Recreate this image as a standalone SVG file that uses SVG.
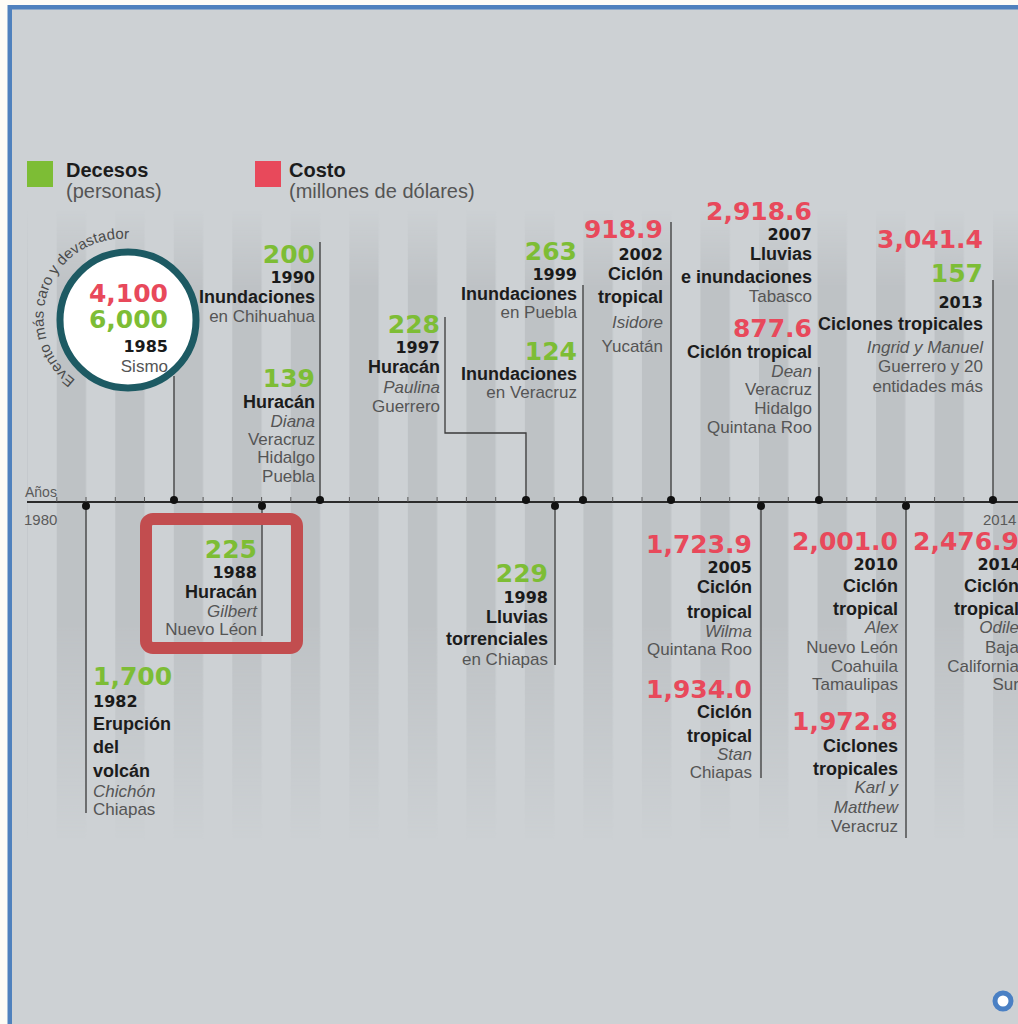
<svg xmlns="http://www.w3.org/2000/svg" width="1018" height="1024" viewBox="0 0 1018 1024">
<style>
.num{font-family:"DejaVu Sans",sans-serif;font-weight:bold;font-size:25px}
.g{fill:#7dbd35}
.r{fill:#e8495b}
.yr{font-family:"DejaVu Sans",sans-serif;font-weight:bold;font-size:16px;fill:#1a1a1a}
.b{font-family:"Liberation Sans",Arial,sans-serif;font-weight:bold;font-size:18px;fill:#1c1c1c}
.t{font-family:"Liberation Sans",Arial,sans-serif;font-size:17px;fill:#555}
.i{font-style:italic}
.e{text-anchor:end}
.conn{fill:none;stroke:#3a3a3a;stroke-width:1.3}
.dot{fill:#111}
.tick{stroke:#555;stroke-width:1}
.ax{font-family:"Liberation Sans",Arial,sans-serif;font-size:15px;fill:#5a5a5a}
</style>
<defs>
<linearGradient id="fade" x1="0" y1="0" x2="0" y2="1">
<stop offset="0" stop-color="#fff" stop-opacity="0"/>
<stop offset="0.12" stop-color="#fff" stop-opacity="1"/>
<stop offset="0.66" stop-color="#fff" stop-opacity="1"/>
<stop offset="1" stop-color="#fff" stop-opacity="0"/>
</linearGradient>
<mask id="fadeMask" maskUnits="userSpaceOnUse" x="0" y="0" width="1018" height="1024">
<rect x="12" y="210" width="1006" height="630" fill="url(#fade)"/>
</mask>
<pattern id="stripes" patternUnits="userSpaceOnUse" x="56.76" y="0" width="58.52" height="10">
<rect x="0" y="0" width="29.26" height="10" fill="#bec2c5"/>
</pattern>
<path id="arcText" d="M75.5,380 A77,77 0 0 1 168,254"/>
</defs>

<!-- background and frame -->
<rect x="0" y="0" width="1018" height="1024" fill="#fdfcf6"/>
<rect x="9.75" y="7.25" width="1020" height="1030" fill="#cdd1d4" stroke="#4f81bd" stroke-width="4.5"/>
<rect x="27" y="210" width="991" height="630" fill="url(#stripes)" mask="url(#fadeMask)"/>

<!-- legend -->
<g id="legend">
<rect x="27" y="161" width="26" height="26" fill="#7dbd35"/>
<text x="66" y="177" class="b" style="font-size:20px">Decesos</text>
<text x="66" y="198" class="t" style="font-size:20px">(personas)</text>
<rect x="255" y="161" width="26" height="26" fill="#e8495b"/>
<text x="289" y="177" class="b" style="font-size:20px">Costo</text>
<text x="289" y="198" class="t" style="font-size:20px">(millones de dólares)</text>
</g>

<!-- axis -->
<g id="axis">
<line x1="27" y1="502" x2="1018" y2="502" stroke="#2b2b2b" stroke-width="2"/>
<g class="tick">
<line x1="56.8" y1="497" x2="56.8" y2="502"/><line x1="86" y1="497" x2="86" y2="502"/><line x1="115.3" y1="497" x2="115.3" y2="502"/><line x1="144.5" y1="497" x2="144.5" y2="502"/><line x1="173.8" y1="497" x2="173.8" y2="502"/><line x1="203.1" y1="497" x2="203.1" y2="502"/><line x1="232.3" y1="497" x2="232.3" y2="502"/><line x1="261.6" y1="497" x2="261.6" y2="502"/><line x1="290.8" y1="497" x2="290.8" y2="502"/><line x1="320.1" y1="497" x2="320.1" y2="502"/><line x1="349.4" y1="497" x2="349.4" y2="502"/><line x1="378.6" y1="497" x2="378.6" y2="502"/><line x1="407.9" y1="497" x2="407.9" y2="502"/><line x1="437.1" y1="497" x2="437.1" y2="502"/><line x1="466.4" y1="497" x2="466.4" y2="502"/><line x1="495.7" y1="497" x2="495.7" y2="502"/><line x1="524.9" y1="497" x2="524.9" y2="502"/><line x1="554.2" y1="497" x2="554.2" y2="502"/><line x1="583.4" y1="497" x2="583.4" y2="502"/><line x1="612.7" y1="497" x2="612.7" y2="502"/><line x1="642" y1="497" x2="642" y2="502"/><line x1="671.2" y1="497" x2="671.2" y2="502"/><line x1="700.5" y1="497" x2="700.5" y2="502"/><line x1="729.7" y1="497" x2="729.7" y2="502"/><line x1="759" y1="497" x2="759" y2="502"/><line x1="788.3" y1="497" x2="788.3" y2="502"/><line x1="817.5" y1="497" x2="817.5" y2="502"/><line x1="846.8" y1="497" x2="846.8" y2="502"/><line x1="876" y1="497" x2="876" y2="502"/><line x1="905.3" y1="497" x2="905.3" y2="502"/><line x1="934.6" y1="497" x2="934.6" y2="502"/><line x1="963.8" y1="497" x2="963.8" y2="502"/><line x1="993.1" y1="497" x2="993.1" y2="502"/>
</g>
<text x="25" y="497" class="ax" style="font-size:14px">Años</text>
<text x="24" y="525" class="ax">1980</text>
<text x="983" y="525" class="ax">2014</text>
</g>

<!-- connectors -->
<g id="connectors">
<path class="conn" d="M86,506 V813"/>
<path class="conn" d="M174,376 V500"/>
<path class="conn" d="M262,506 V636"/>
<path class="conn" d="M320,242 V500"/>
<path class="conn" d="M445,317 V433 H526 V500"/>
<path class="conn" d="M555,506 V665"/>
<path class="conn" d="M583,285 V500"/>
<path class="conn" d="M671,222 V500"/>
<path class="conn" d="M761,506 V778"/>
<path class="conn" d="M819,367 V500"/>
<path class="conn" d="M906,506 V838"/>
<path class="conn" d="M993,280 V500"/>
<g class="dot">
<circle cx="174" cy="500" r="4"/><circle cx="320" cy="500" r="4"/><circle cx="526" cy="500" r="4"/><circle cx="583" cy="500" r="4"/><circle cx="671" cy="500" r="4"/><circle cx="819" cy="500" r="4"/><circle cx="993" cy="500" r="4"/>
<circle cx="86" cy="506" r="4"/><circle cx="262" cy="506" r="4"/><circle cx="555" cy="506" r="4"/><circle cx="761" cy="506" r="4"/><circle cx="906" cy="506" r="4"/>
</g>
</g>

<!-- nodes -->
<g id="n1982">
<text x="93" y="685" class="num g">1,700</text>
<text x="93" y="707" class="yr">1982</text>
<text x="93" y="730" class="b">Erupción</text>
<text x="93" y="753" class="b">del</text>
<text x="93" y="777" class="b">volcán</text>
<text x="93" y="797" class="t i">Chichón</text>
<text x="93" y="815" class="t">Chiapas</text>
</g>

<g id="n1985">
<circle cx="128" cy="320" r="68" fill="#fff" stroke="#1d5a63" stroke-width="7"/>
<text class="t" style="font-size:15px;fill:#4a4a4a"><textPath href="#arcText">Evento más caro y devastador</textPath></text>
<text x="168" y="302" class="num r e">4,100</text>
<text x="168" y="328" class="num g e">6,000</text>
<text x="168" y="352" class="yr e">1985</text>
<text x="168" y="372" class="t e">Sismo</text>
</g>

<g id="n1988">
<rect x="146" y="519" width="151" height="129" rx="7" fill="none" stroke="#c24d4f" stroke-width="12"/>
<text x="257" y="558" class="num g e">225</text>
<text x="257" y="578" class="yr e">1988</text>
<text x="257" y="598" class="b e">Huracán</text>
<text x="257" y="617" class="t i e">Gilbert</text>
<text x="257" y="635" class="t e">Nuevo Léon</text>
</g>

<g id="n1990">
<text x="315" y="263" class="num g e">200</text>
<text x="315" y="283" class="yr e">1990</text>
<text x="315" y="303" class="b e">Inundaciones</text>
<text x="315" y="322" class="t e">en Chihuahua</text>
<text x="315" y="387" class="num g e">139</text>
<text x="315" y="408" class="b e">Huracán</text>
<text x="315" y="427" class="t i e">Diana</text>
<text x="315" y="445" class="t e">Veracruz</text>
<text x="315" y="463" class="t e">Hidalgo</text>
<text x="315" y="482" class="t e">Puebla</text>
</g>

<g id="n1997">
<text x="440" y="333" class="num g e">228</text>
<text x="440" y="353" class="yr e">1997</text>
<text x="440" y="373" class="b e">Huracán</text>
<text x="440" y="393" class="t i e">Paulina</text>
<text x="440" y="412" class="t e">Guerrero</text>
</g>

<g id="n1998">
<text x="548" y="582" class="num g e">229</text>
<text x="548" y="603" class="yr e">1998</text>
<text x="548" y="623" class="b e">Lluvias</text>
<text x="548" y="645" class="b e">torrenciales</text>
<text x="548" y="665" class="t e">en Chiapas</text>
</g>

<g id="n1999">
<text x="577" y="260" class="num g e">263</text>
<text x="577" y="280" class="yr e">1999</text>
<text x="577" y="300" class="b e">Inundaciones</text>
<text x="577" y="318" class="t e">en Puebla</text>
<text x="577" y="360" class="num g e">124</text>
<text x="577" y="380" class="b e">Inundaciones</text>
<text x="577" y="398" class="t e">en Veracruz</text>
</g>

<g id="n2002">
<text x="663" y="238" class="num r e">918.9</text>
<text x="663" y="260" class="yr e">2002</text>
<text x="663" y="280" class="b e">Ciclón</text>
<text x="663" y="303" class="b e">tropical</text>
<text x="663" y="328" class="t i e">Isidore</text>
<text x="663" y="352" class="t e">Yucatán</text>
</g>

<g id="n2005">
<text x="752" y="553" class="num r e">1,723.9</text>
<text x="752" y="573" class="yr e">2005</text>
<text x="752" y="593" class="b e">Ciclón</text>
<text x="752" y="618" class="b e">tropical</text>
<text x="752" y="637" class="t i e">Wilma</text>
<text x="752" y="655" class="t e">Quintana Roo</text>
<text x="752" y="698" class="num r e">1,934.0</text>
<text x="752" y="718" class="b e">Ciclón</text>
<text x="752" y="742" class="b e">tropical</text>
<text x="752" y="760" class="t i e">Stan</text>
<text x="752" y="778" class="t e">Chiapas</text>
</g>

<g id="n2007">
<text x="812" y="220" class="num r e">2,918.6</text>
<text x="812" y="240" class="yr e">2007</text>
<text x="812" y="260" class="b e">Lluvias</text>
<text x="812" y="283" class="b e">e inundaciones</text>
<text x="812" y="302" class="t e">Tabasco</text>
<text x="812" y="337" class="num r e">877.6</text>
<text x="812" y="358" class="b e">Ciclón tropical</text>
<text x="812" y="377" class="t i e">Dean</text>
<text x="812" y="395" class="t e">Veracruz</text>
<text x="812" y="414" class="t e">Hidalgo</text>
<text x="812" y="433" class="t e">Quintana Roo</text>
</g>

<g id="n2010">
<text x="898" y="550" class="num r e">2,001.0</text>
<text x="898" y="570" class="yr e">2010</text>
<text x="898" y="592" class="b e">Ciclón</text>
<text x="898" y="615" class="b e">tropical</text>
<text x="898" y="633" class="t i e">Alex</text>
<text x="898" y="653" class="t e">Nuevo León</text>
<text x="898" y="672" class="t e">Coahuila</text>
<text x="898" y="690" class="t e">Tamaulipas</text>
<text x="898" y="730" class="num r e">1,972.8</text>
<text x="898" y="752" class="b e">Ciclones</text>
<text x="898" y="775" class="b e">tropicales</text>
<text x="898" y="793" class="t i e">Karl y</text>
<text x="898" y="813" class="t i e">Matthew</text>
<text x="898" y="832" class="t e">Veracruz</text>
</g>

<g id="n2013">
<text x="983" y="248" class="num r e">3,041.4</text>
<text x="983" y="282" class="num g e">157</text>
<text x="983" y="308" class="yr e">2013</text>
<text x="983" y="330" class="b e">Ciclones tropicales</text>
<text x="983" y="353" class="t i e">Ingrid y Manuel</text>
<text x="983" y="372" class="t e">Guerrero y 20</text>
<text x="983" y="392" class="t e">entidades más</text>
</g>

<g id="n2014">
<text x="1019" y="550" class="num r e">2,476.9</text>
<text x="1022" y="570" class="yr e">2014</text>
<text x="1019" y="592" class="b e">Ciclón</text>
<text x="1019" y="615" class="b e">tropical</text>
<text x="1019" y="633" class="t i e">Odile</text>
<text x="1019" y="653" class="t e">Baja</text>
<text x="1019" y="672" class="t e">California</text>
<text x="1019" y="690" class="t e">Sur</text>
</g>

<circle cx="1003" cy="1001" r="8" fill="#fff" stroke="#4a80c4" stroke-width="5"/>
</svg>
